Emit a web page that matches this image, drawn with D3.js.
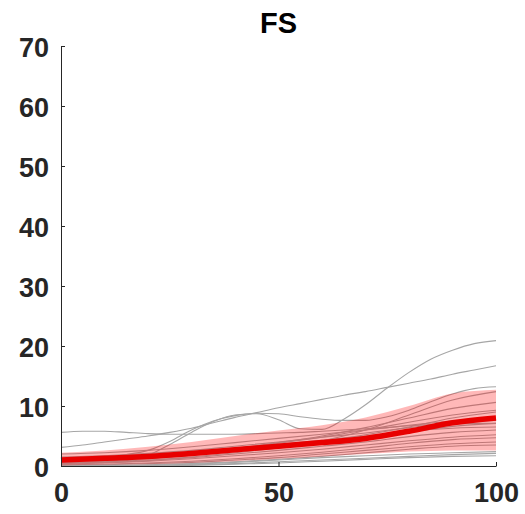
<!DOCTYPE html>
<html>
<head>
<meta charset="utf-8">
<script src="https://cdn.jsdelivr.net/npm/d3@7"></script>
<style>
  body { margin: 0; background: #fff; }
  svg { display: block; font-family: "Liberation Sans", Arial, sans-serif; }
</style>
</head>
<body>
<svg id="chart"></svg>
<script>
// time axis (percent), two resolutions
const t5 = d3.range(0, 101, 5)
const t10 = d3.range(0, 101, 10)

const xTicks = [0, 50, 100]
const yTicks = [0, 10, 20, 30, 40, 50, 60, 70]
const title = 'FS'

// the distinct subject curves that stick out of the band (sampled every 5)
const subjFlat  = [5.6, 5.8, 5.8, 5.6, 5.4, 5.3, 5.3, 5.3, 5.3, 5.4, 5.5, 5.6, 5.8, 6.0, 6.2, 6.4, 6.7, 6.9, 7.0, 7.1, 7.1]
const subjLinear = [3.1, 3.5, 4.0, 4.5, 5.0, 5.6, 6.3, 7.2, 8.1, 8.9, 9.7, 10.4, 11.1, 11.8, 12.4, 13.1, 13.8, 14.5, 15.3, 16.0, 16.7]
const subjHumpHigh = [0.6, 0.6, 0.7, 0.9, 1.8, 3.6, 5.6, 7.4, 8.5, 8.7, 7.7, 6.2, 6.1, 7.8, 10.2, 13.0, 15.6, 17.8, 19.3, 20.4, 20.9]
const subjHumpMid = [1.2, 1.3, 1.5, 1.9, 2.6, 4.1, 6.0, 7.5, 8.4, 8.8, 8.7, 8.2, 7.8, 7.6, 7.6, 8.2, 9.3, 10.7, 12.0, 12.9, 13.2]

// the rest of the subjects, inside the band (sampled every 10)
const subjOthers = [
  [1.0, 1.1, 1.3, 1.8, 2.5, 3.2, 4.2, 6.0, 8.5, 11.0, 12.4],
  [0.8, 1.0, 1.4, 2.0, 2.8, 3.8, 4.8, 6.0, 7.3, 8.5, 9.3],
  [1.2, 1.4, 1.8, 2.4, 3.0, 3.6, 4.3, 5.0, 5.8, 6.3, 6.5],
  [0.5, 0.7, 1.0, 1.4, 2.0, 2.6, 3.3, 4.0, 4.9, 5.6, 6.0],
  [0.3, 0.5, 0.8, 1.2, 1.7, 2.2, 2.8, 3.5, 4.2, 4.8, 5.2],
  [0.2, 0.3, 0.5, 0.8, 1.2, 1.7, 2.3, 3.0, 3.8, 4.4, 4.7],
  [0.1, 0.2, 0.4, 0.6, 1.0, 1.4, 2.0, 2.6, 3.2, 3.7, 4.0],
  [0.0, 0.1, 0.2, 0.4, 0.7, 1.1, 1.6, 2.2, 2.8, 3.3, 3.5],
  [0.0, 0.0, 0.1, 0.3, 0.6, 1.0, 1.4, 1.7, 2.0, 2.2, 2.4],
  [0.0, 0.0, 0.1, 0.2, 0.4, 0.7, 1.0, 1.3, 1.6, 1.9, 2.1],
  [0.0, 0.0, 0.0, 0.1, 0.3, 0.5, 0.8, 1.1, 1.4, 1.6, 1.7],
  [1.5, 1.7, 2.1, 2.6, 3.3, 4.0, 4.8, 5.5, 6.4, 7.2, 7.6],
  [2.0, 2.2, 2.6, 3.2, 3.9, 4.6, 5.3, 6.0, 6.8, 7.5, 8.0],
  [0.6, 0.8, 1.2, 1.8, 2.6, 3.4, 4.2, 5.2, 6.5, 8.0, 9.0],
  [0.9, 1.1, 1.5, 2.1, 2.9, 3.9, 5.0, 6.4, 8.0, 9.6, 10.6],
  [0.4, 0.6, 0.9, 1.5, 2.2, 3.0, 3.9, 4.8, 5.6, 6.6, 7.1]
]

// group mean and band
const meanVals  = [1.0, 1.3, 1.6, 2.1, 2.7, 3.3, 3.9, 4.6, 5.8, 7.2, 8.0]
const upperVals = [2.2, 2.6, 3.2, 4.0, 5.0, 5.9, 6.8, 8.1, 10.0, 12.1, 12.7]
const lowerVals = [0.1, 0.2, 0.3, 0.5, 0.8, 1.2, 1.6, 2.0, 2.4, 2.6, 2.6]

const W = 525, H = 514
const margin = { top: 46, right: 29, bottom: 48, left: 61 }

const svg = d3.select('#chart').attr('width', W).attr('height', H)

const x = d3.scaleLinear().domain([0, 100]).range([margin.left, W - margin.right])
const y = d3.scaleLinear().domain([0, 70]).range([H - margin.bottom, margin.top])

const line = d3.line().x(d => x(d[0])).y(d => y(d[1])).curve(d3.curveMonotoneX)
const zip = (ts, vs) => ts.map((t, i) => [t, vs[i]])

// gray subject lines
const grayLines = subjOthers.map(v => zip(t10, v))
  .concat([subjFlat, subjLinear, subjHumpHigh, subjHumpMid].map(v => zip(t5, v)))

svg.append('g').selectAll('path').data(grayLines).join('path')
  .attr('d', d => line(d))
  .attr('fill', 'none')
  .attr('stroke', '#a6a6a6')
  .attr('stroke-width', 1.1)

// band
const band = d3.area()
  .x((d, i) => x(t10[i]))
  .y0((d, i) => y(lowerVals[i]))
  .y1((d, i) => y(upperVals[i]))
  .curve(d3.curveMonotoneX)

svg.append('path')
  .attr('d', band(t10))
  .attr('fill', 'rgb(255,0,0)')
  .attr('fill-opacity', 0.28)

// mean line
svg.append('path')
  .attr('d', line(zip(t10, meanVals)))
  .attr('fill', 'none')
  .attr('stroke', 'rgb(232,0,0)')
  .attr('stroke-width', 5.5)

// axes
const xAxis = svg.append('g')
  .attr('transform', `translate(0,${H - margin.bottom})`)
  .call(d3.axisBottom(x).tickValues(xTicks).tickSize(-4).tickSizeOuter(0).tickPadding(17))
const yAxis = svg.append('g')
  .attr('transform', `translate(${margin.left},0)`)
  .call(d3.axisLeft(y).tickValues(yTicks).tickSize(-4).tickSizeOuter(0).tickPadding(12))

;[xAxis, yAxis].forEach(g => {
  g.selectAll('path, line').attr('stroke', '#262626').attr('stroke-width', 1)
  g.selectAll('text')
    .attr('fill', '#262626')
    .style('font-size', '27px')
    .style('font-weight', 'bold')
    .style('font-family', '"Liberation Sans", Arial, sans-serif')
})
yAxis.selectAll('text').attr('dy', '0.38em')

// title
svg.append('text')
  .attr('x', x(50))
  .attr('y', 33)
  .attr('text-anchor', 'middle')
  .style('font-size', '29px')
  .style('font-weight', 'bold')
  .attr('fill', '#000')
  .text(title)
</script>
</body>
</html>
